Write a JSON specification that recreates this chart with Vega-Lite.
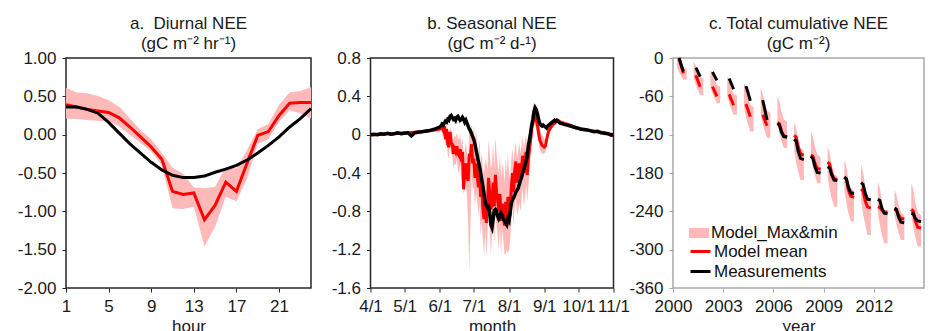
{
"$schema": "https://vega.github.io/schema/vega-lite/v6.json",
"padding": {"left": 16, "top": 14, "right": 5, "bottom": 5},
"background": "white",
"config": {
  "font": "Liberation Sans",
  "view": {"stroke": "#262626", "strokeWidth": 1.5},
  "axis": {"grid": false, "domain": false, "tickColor": "#262626", "tickSize": 4, "labelFontSize": 17, "labelColor": "#1a1a1a", "labelFont": "Liberation Sans", "labelPadding": 6, "titleFont": "Liberation Sans", "titleFontSize": 17, "titleFontWeight": "normal", "titleColor": "#1a1a1a", "titlePadding": 4, "labelFlush": false, "labelOverlap": false},
  "title": {"fontSize": 17, "fontWeight": "normal", "font": "Liberation Sans", "color": "#1a1a1a", "lineHeight": 20, "offset": -4, "anchor": "middle"},
  "legend": {"labelFont": "Liberation Sans", "labelFontSize": 17, "labelColor": "#111111", "padding": 0}
},
"datasets": {
  "diurnal": [
    {"hour": 1, "obs": 0.36, "mean": 0.39, "min": 0.21, "max": 0.61},
    {"hour": 2, "obs": 0.36, "mean": 0.36, "min": 0.205, "max": 0.55},
    {"hour": 3, "obs": 0.33, "mean": 0.33, "min": 0.19, "max": 0.54},
    {"hour": 4, "obs": 0.28, "mean": 0.31, "min": 0.18, "max": 0.505},
    {"hour": 5, "obs": 0.16, "mean": 0.29, "min": 0.17, "max": 0.45},
    {"hour": 6, "obs": 0.02, "mean": 0.22, "min": 0.11, "max": 0.365},
    {"hour": 7, "obs": -0.12, "mean": 0.10, "min": 0.0, "max": 0.21},
    {"hour": 8, "obs": -0.24, "mean": -0.03, "min": -0.11, "max": 0.06},
    {"hour": 9, "obs": -0.36, "mean": -0.16, "min": -0.22, "max": -0.06},
    {"hour": 10, "obs": -0.46, "mean": -0.32, "min": -0.40, "max": -0.24},
    {"hour": 11, "obs": -0.53, "mean": -0.74, "min": -0.96, "max": -0.43},
    {"hour": 12, "obs": -0.56, "mean": -0.78, "min": -0.97, "max": -0.51},
    {"hour": 13, "obs": -0.56, "mean": -0.76, "min": -0.94, "max": -0.69},
    {"hour": 14, "obs": -0.54, "mean": -1.11, "min": -1.46, "max": -0.70},
    {"hour": 15, "obs": -0.49, "mean": -0.92, "min": -1.20, "max": -0.68},
    {"hour": 16, "obs": -0.45, "mean": -0.62, "min": -0.81, "max": -0.42},
    {"hour": 17, "obs": -0.40, "mean": -0.74, "min": -0.87, "max": -0.44},
    {"hour": 18, "obs": -0.33, "mean": -0.37, "min": -0.57, "max": -0.20},
    {"hour": 19, "obs": -0.24, "mean": -0.01, "min": -0.12, "max": 0.07},
    {"hour": 20, "obs": -0.14, "mean": 0.04, "min": -0.06, "max": 0.14},
    {"hour": 21, "obs": -0.03, "mean": 0.25, "min": 0.17, "max": 0.39},
    {"hour": 22, "obs": 0.10, "mean": 0.41, "min": 0.32, "max": 0.55},
    {"hour": 23, "obs": 0.21, "mean": 0.42, "min": 0.28, "max": 0.57},
    {"hour": 24, "obs": 0.34, "mean": 0.42, "min": 0.21, "max": 0.62}
  ],
  "seasonal": [
    {"d": "2001-04-01", "obs": 0, "mean": 0, "min": -0.01, "max": 0.01},
    {"d": "2001-04-04", "obs": 0.005, "mean": 0, "min": -0.01, "max": 0.01},
    {"d": "2001-04-07", "obs": 0, "mean": 0.005, "min": -0.005, "max": 0.015},
    {"d": "2001-04-10", "obs": 0.01, "mean": 0.005, "min": -0.005, "max": 0.015},
    {"d": "2001-04-13", "obs": 0.005, "mean": 0.01, "min": 0, "max": 0.02},
    {"d": "2001-04-16", "obs": 0.015, "mean": 0.01, "min": 0, "max": 0.02},
    {"d": "2001-04-19", "obs": 0.005, "mean": 0.01, "min": 0, "max": 0.02},
    {"d": "2001-04-22", "obs": 0.01, "mean": 0.012, "min": 0, "max": 0.025},
    {"d": "2001-04-25", "obs": 0.02, "mean": 0.015, "min": 0.005, "max": 0.025},
    {"d": "2001-04-28", "obs": 0.01, "mean": 0.015, "min": 0.005, "max": 0.03},
    {"d": "2001-05-01", "obs": 0.015, "mean": 0.02, "min": 0.005, "max": 0.03},
    {"d": "2001-05-04", "obs": 0.02, "mean": 0.02, "min": 0.01, "max": 0.03},
    {"d": "2001-05-07", "obs": -0.012, "mean": 0.022, "min": 0.01, "max": 0.035},
    {"d": "2001-05-10", "obs": 0.02, "mean": 0.025, "min": 0.01, "max": 0.035},
    {"d": "2001-05-13", "obs": 0.025, "mean": 0.028, "min": 0.015, "max": 0.04},
    {"d": "2001-05-16", "obs": 0.03, "mean": 0.03, "min": 0.015, "max": 0.045},
    {"d": "2001-05-19", "obs": 0.035, "mean": 0.035, "min": 0.02, "max": 0.05},
    {"d": "2001-05-22", "obs": 0.04, "mean": 0.04, "min": 0.02, "max": 0.055},
    {"d": "2001-05-25", "obs": 0.05, "mean": 0.045, "min": 0.025, "max": 0.06},
    {"d": "2001-05-28", "obs": 0.06, "mean": 0.05, "min": 0.03, "max": 0.065},
    {"d": "2001-06-01", "obs": 0.08, "mean": 0.06, "min": 0.03, "max": 0.08},
    {"d": "2001-06-02", "obs": 0.09, "mean": 0.07, "min": 0.04, "max": 0.09},
    {"d": "2001-06-03", "obs": 0.11, "mean": 0.08, "min": 0.02, "max": 0.10},
    {"d": "2001-06-04", "obs": 0.10, "mean": 0.05, "min": -0.02, "max": 0.09},
    {"d": "2001-06-05", "obs": 0.12, "mean": 0.09, "min": 0.0, "max": 0.11},
    {"d": "2001-06-06", "obs": 0.14, "mean": -0.05, "min": -0.12, "max": 0.08},
    {"d": "2001-06-07", "obs": 0.13, "mean": 0.06, "min": -0.05, "max": 0.10},
    {"d": "2001-06-08", "obs": 0.16, "mean": -0.10, "min": -0.20, "max": 0.05},
    {"d": "2001-06-09", "obs": 0.15, "mean": -0.13, "min": -0.25, "max": 0.02},
    {"d": "2001-06-10", "obs": 0.19, "mean": 0.03, "min": -0.10, "max": 0.08},
    {"d": "2001-06-11", "obs": 0.20, "mean": -0.08, "min": -0.20, "max": 0.04},
    {"d": "2001-06-12", "obs": 0.18, "mean": -0.10, "min": -0.22, "max": 0.02},
    {"d": "2001-06-13", "obs": 0.16, "mean": -0.20, "min": -0.35, "max": -0.05},
    {"d": "2001-06-14", "obs": 0.17, "mean": -0.15, "min": -0.30, "max": 0.0},
    {"d": "2001-06-15", "obs": 0.15, "mean": -0.18, "min": -0.32, "max": -0.03},
    {"d": "2001-06-16", "obs": 0.18, "mean": -0.12, "min": -0.25, "max": 0.02},
    {"d": "2001-06-17", "obs": 0.19, "mean": -0.20, "min": -0.38, "max": -0.04},
    {"d": "2001-06-18", "obs": 0.17, "mean": -0.22, "min": -0.40, "max": -0.05},
    {"d": "2001-06-19", "obs": 0.15, "mean": -0.15, "min": -0.30, "max": 0.0},
    {"d": "2001-06-20", "obs": 0.16, "mean": -0.28, "min": -0.50, "max": -0.10},
    {"d": "2001-06-21", "obs": 0.18, "mean": -0.18, "min": -0.40, "max": -0.02},
    {"d": "2001-06-22", "obs": 0.16, "mean": -0.57, "min": -0.62, "max": -0.30},
    {"d": "2001-06-23", "obs": 0.13, "mean": -0.38, "min": -0.58, "max": -0.15},
    {"d": "2001-06-24", "obs": 0.15, "mean": -0.30, "min": -0.50, "max": -0.08},
    {"d": "2001-06-25", "obs": 0.12, "mean": -0.45, "min": -0.66, "max": -0.20},
    {"d": "2001-06-26", "obs": 0.09, "mean": -0.48, "min": -0.90, "max": -0.25},
    {"d": "2001-06-27", "obs": 0.06, "mean": -0.20, "min": -1.43, "max": 0.05},
    {"d": "2001-06-28", "obs": 0.04, "mean": -0.23, "min": -0.95, "max": 0.0},
    {"d": "2001-06-29", "obs": 0.01, "mean": -0.10, "min": -0.40, "max": 0.12},
    {"d": "2001-06-30", "obs": -0.02, "mean": -0.30, "min": -0.55, "max": -0.05},
    {"d": "2001-07-01", "obs": -0.05, "mean": -0.25, "min": -0.55, "max": 0.10},
    {"d": "2001-07-02", "obs": -0.10, "mean": -0.45, "min": -0.75, "max": -0.10},
    {"d": "2001-07-03", "obs": -0.16, "mean": -0.30, "min": -0.60, "max": 0.05},
    {"d": "2001-07-04", "obs": -0.22, "mean": -0.42, "min": -0.70, "max": -0.15},
    {"d": "2001-07-05", "obs": -0.28, "mean": -0.55, "min": -0.85, "max": -0.20},
    {"d": "2001-07-06", "obs": -0.33, "mean": -0.38, "min": -0.70, "max": -0.05},
    {"d": "2001-07-07", "obs": -0.40, "mean": -0.65, "min": -1.05, "max": -0.30},
    {"d": "2001-07-08", "obs": -0.47, "mean": -0.55, "min": -0.90, "max": -0.20},
    {"d": "2001-07-09", "obs": -0.54, "mean": -0.78, "min": -1.10, "max": -0.35},
    {"d": "2001-07-10", "obs": -0.62, "mean": -0.88, "min": -1.27, "max": -0.40},
    {"d": "2001-07-11", "obs": -0.70, "mean": -0.70, "min": -1.00, "max": -0.25},
    {"d": "2001-07-12", "obs": -0.74, "mean": -0.92, "min": -1.27, "max": -0.30},
    {"d": "2001-07-13", "obs": -0.76, "mean": -0.75, "min": -1.05, "max": -0.35},
    {"d": "2001-07-14", "obs": -0.75, "mean": -0.45, "min": -0.80, "max": -0.05},
    {"d": "2001-07-15", "obs": -0.82, "mean": -0.62, "min": -0.95, "max": -0.20},
    {"d": "2001-07-16", "obs": -0.94, "mean": -0.78, "min": -1.25, "max": -0.35},
    {"d": "2001-07-17", "obs": -0.97, "mean": -0.72, "min": -1.05, "max": -0.30},
    {"d": "2001-07-18", "obs": -0.88, "mean": -0.50, "min": -0.85, "max": -0.10},
    {"d": "2001-07-19", "obs": -0.79, "mean": -0.75, "min": -1.15, "max": -0.35},
    {"d": "2001-07-20", "obs": -0.78, "mean": -0.42, "min": -0.80, "max": -0.02},
    {"d": "2001-07-21", "obs": -0.80, "mean": -0.60, "min": -0.95, "max": -0.20},
    {"d": "2001-07-22", "obs": -0.85, "mean": -0.68, "min": -1.05, "max": -0.30},
    {"d": "2001-07-23", "obs": -0.88, "mean": -0.80, "min": -1.20, "max": -0.40},
    {"d": "2001-07-24", "obs": -0.86, "mean": -0.62, "min": -0.95, "max": -0.20},
    {"d": "2001-07-25", "obs": -0.82, "mean": -0.90, "min": -1.25, "max": -0.45},
    {"d": "2001-07-26", "obs": -0.84, "mean": -0.72, "min": -1.00, "max": -0.30},
    {"d": "2001-07-27", "obs": -0.88, "mean": -0.82, "min": -1.10, "max": -0.35},
    {"d": "2001-07-28", "obs": -0.90, "mean": -0.95, "min": -1.25, "max": -0.50},
    {"d": "2001-07-29", "obs": -0.92, "mean": -0.70, "min": -1.24, "max": -0.25},
    {"d": "2001-07-30", "obs": -0.94, "mean": -0.88, "min": -1.20, "max": -0.40},
    {"d": "2001-07-31", "obs": -0.88, "mean": -0.65, "min": -1.24, "max": -0.20},
    {"d": "2001-08-01", "obs": -0.90, "mean": -0.70, "min": -1.20, "max": -0.40},
    {"d": "2001-08-02", "obs": -0.80, "mean": -0.85, "min": -1.10, "max": -0.50},
    {"d": "2001-08-03", "obs": -0.72, "mean": -0.55, "min": -0.90, "max": -0.25},
    {"d": "2001-08-04", "obs": -0.68, "mean": -0.40, "min": -0.75, "max": -0.15},
    {"d": "2001-08-05", "obs": -0.66, "mean": -0.60, "min": -0.95, "max": -0.30},
    {"d": "2001-08-06", "obs": -0.63, "mean": -0.38, "min": -0.75, "max": -0.15},
    {"d": "2001-08-07", "obs": -0.60, "mean": -0.28, "min": -0.65, "max": -0.08},
    {"d": "2001-08-08", "obs": -0.58, "mean": -0.50, "min": -0.85, "max": -0.25},
    {"d": "2001-08-09", "obs": -0.56, "mean": -0.42, "min": -0.80, "max": -0.18},
    {"d": "2001-08-10", "obs": -0.52, "mean": -0.30, "min": -0.70, "max": -0.08},
    {"d": "2001-08-11", "obs": -0.48, "mean": -0.45, "min": -0.80, "max": -0.20},
    {"d": "2001-08-12", "obs": -0.45, "mean": -0.35, "min": -0.70, "max": -0.12},
    {"d": "2001-08-13", "obs": -0.40, "mean": -0.22, "min": -0.55, "max": -0.02},
    {"d": "2001-08-14", "obs": -0.36, "mean": -0.40, "min": -0.75, "max": -0.15},
    {"d": "2001-08-15", "obs": -0.32, "mean": -0.30, "min": -0.65, "max": -0.08},
    {"d": "2001-08-16", "obs": -0.28, "mean": -0.18, "min": -0.50, "max": 0.0},
    {"d": "2001-08-17", "obs": -0.22, "mean": -0.42, "min": -0.70, "max": -0.15},
    {"d": "2001-08-18", "obs": -0.12, "mean": -0.25, "min": -0.55, "max": -0.05},
    {"d": "2001-08-19", "obs": -0.05, "mean": -0.15, "min": -0.40, "max": 0.05},
    {"d": "2001-08-20", "obs": 0.02, "mean": -0.05, "min": -0.25, "max": 0.10},
    {"d": "2001-08-21", "obs": 0.10, "mean": 0.08, "min": -0.10, "max": 0.20},
    {"d": "2001-08-22", "obs": 0.16, "mean": 0.12, "min": -0.02, "max": 0.30},
    {"d": "2001-08-23", "obs": 0.24, "mean": 0.20, "min": 0.08, "max": 0.33},
    {"d": "2001-08-24", "obs": 0.28, "mean": 0.22, "min": 0.12, "max": 0.32},
    {"d": "2001-08-25", "obs": 0.26, "mean": 0.15, "min": 0.05, "max": 0.25},
    {"d": "2001-08-26", "obs": 0.22, "mean": 0.10, "min": 0.0, "max": 0.18},
    {"d": "2001-08-27", "obs": 0.16, "mean": 0.02, "min": -0.08, "max": 0.12},
    {"d": "2001-08-28", "obs": 0.12, "mean": -0.05, "min": -0.15, "max": 0.06},
    {"d": "2001-08-29", "obs": 0.10, "mean": -0.08, "min": -0.18, "max": 0.03},
    {"d": "2001-08-30", "obs": 0.09, "mean": -0.11, "min": -0.20, "max": 0.0},
    {"d": "2001-08-31", "obs": 0.10, "mean": -0.12, "min": -0.20, "max": -0.02},
    {"d": "2001-09-01", "obs": 0.09, "mean": -0.13, "min": -0.20, "max": -0.05},
    {"d": "2001-09-02", "obs": 0.08, "mean": -0.12, "min": -0.18, "max": -0.04},
    {"d": "2001-09-03", "obs": 0.07, "mean": -0.06, "min": -0.12, "max": 0.01},
    {"d": "2001-09-04", "obs": 0.09, "mean": 0.0, "min": -0.06, "max": 0.05},
    {"d": "2001-09-05", "obs": 0.10, "mean": 0.04, "min": -0.02, "max": 0.09},
    {"d": "2001-09-06", "obs": 0.11, "mean": 0.06, "min": 0.02, "max": 0.10},
    {"d": "2001-09-07", "obs": 0.12, "mean": 0.08, "min": 0.04, "max": 0.12},
    {"d": "2001-09-08", "obs": 0.13, "mean": 0.10, "min": 0.07, "max": 0.13},
    {"d": "2001-09-09", "obs": 0.14, "mean": 0.11, "min": 0.08, "max": 0.14},
    {"d": "2001-09-10", "obs": 0.15, "mean": 0.12, "min": 0.09, "max": 0.15},
    {"d": "2001-09-11", "obs": 0.14, "mean": 0.13, "min": 0.10, "max": 0.16},
    {"d": "2001-09-12", "obs": 0.15, "mean": 0.14, "min": 0.11, "max": 0.17},
    {"d": "2001-09-13", "obs": 0.14, "mean": 0.15, "min": 0.12, "max": 0.17},
    {"d": "2001-09-14", "obs": 0.13, "mean": 0.14, "min": 0.11, "max": 0.16},
    {"d": "2001-09-15", "obs": 0.12, "mean": 0.13, "min": 0.11, "max": 0.15},
    {"d": "2001-09-18", "obs": 0.11, "mean": 0.12, "min": 0.10, "max": 0.14},
    {"d": "2001-09-21", "obs": 0.10, "mean": 0.11, "min": 0.09, "max": 0.13},
    {"d": "2001-09-24", "obs": 0.09, "mean": 0.10, "min": 0.08, "max": 0.11},
    {"d": "2001-09-27", "obs": 0.08, "mean": 0.08, "min": 0.07, "max": 0.10},
    {"d": "2001-09-30", "obs": 0.07, "mean": 0.07, "min": 0.06, "max": 0.08},
    {"d": "2001-10-03", "obs": 0.06, "mean": 0.06, "min": 0.05, "max": 0.07},
    {"d": "2001-10-06", "obs": 0.055, "mean": 0.05, "min": 0.04, "max": 0.06},
    {"d": "2001-10-09", "obs": 0.05, "mean": 0.045, "min": 0.035, "max": 0.055},
    {"d": "2001-10-12", "obs": 0.04, "mean": 0.04, "min": 0.03, "max": 0.05},
    {"d": "2001-10-15", "obs": 0.03, "mean": 0.035, "min": 0.025, "max": 0.045},
    {"d": "2001-10-18", "obs": 0.035, "mean": 0.03, "min": 0.02, "max": 0.04},
    {"d": "2001-10-21", "obs": 0.02, "mean": 0.025, "min": 0.015, "max": 0.035},
    {"d": "2001-10-24", "obs": 0.015, "mean": 0.02, "min": 0.01, "max": 0.03},
    {"d": "2001-10-27", "obs": 0.01, "mean": 0.01, "min": 0.0, "max": 0.02},
    {"d": "2001-10-30", "obs": -0.005, "mean": 0.005, "min": -0.005, "max": 0.015},
    {"d": "2001-11-01", "obs": 0.0, "mean": 0.0, "min": -0.01, "max": 0.01}
  ],
  "cumul": [
    {"t": 2000.24, "season": 2000, "obs": null, "mean": null, "min": -15, "max": 0},
    {"t": 2000.36, "season": 2000, "obs": 0, "mean": 0, "min": -22, "max": -3},
    {"t": 2000.48, "season": 2000, "obs": -10, "mean": -11, "min": -28, "max": -9},
    {"t": 2000.62, "season": 2000, "obs": -21, "mean": -24, "min": -34, "max": -15},
    {"t": 2000.82, "season": 2000, "obs": null, "mean": null, "min": -34, "max": -17},
    {"t": 2001.24, "season": 2001, "obs": null, "mean": null, "min": -32, "max": -6},
    {"t": 2001.36, "season": 2001, "obs": -15, "mean": -27, "min": -42, "max": -11},
    {"t": 2001.48, "season": 2001, "obs": -21, "mean": -35, "min": -50, "max": -22},
    {"t": 2001.62, "season": 2001, "obs": -29, "mean": -45, "min": -58, "max": -29},
    {"t": 2001.82, "season": 2001, "obs": null, "mean": null, "min": -58, "max": -32},
    {"t": 2002.24, "season": 2002, "obs": null, "mean": null, "min": -45, "max": -19},
    {"t": 2002.36, "season": 2002, "obs": -22, "mean": -45, "min": -55, "max": -24},
    {"t": 2002.48, "season": 2002, "obs": -28, "mean": -52, "min": -63, "max": -35},
    {"t": 2002.62, "season": 2002, "obs": -35, "mean": -60, "min": -71, "max": -42},
    {"t": 2002.82, "season": 2002, "obs": null, "mean": null, "min": -71, "max": -45},
    {"t": 2003.24, "season": 2003, "obs": null, "mean": null, "min": -59, "max": -29},
    {"t": 2003.36, "season": 2003, "obs": -32, "mean": -57, "min": -71, "max": -35},
    {"t": 2003.48, "season": 2003, "obs": -40, "mean": -65, "min": -80, "max": -47},
    {"t": 2003.62, "season": 2003, "obs": -49, "mean": -74, "min": -89, "max": -56},
    {"t": 2003.82, "season": 2003, "obs": null, "mean": null, "min": -89, "max": -59},
    {"t": 2004.24, "season": 2004, "obs": null, "mean": null, "min": -77, "max": -39},
    {"t": 2004.36, "season": 2004, "obs": -44, "mean": -72, "min": -92, "max": -47},
    {"t": 2004.48, "season": 2004, "obs": -54, "mean": -81, "min": -104, "max": -62},
    {"t": 2004.62, "season": 2004, "obs": -67, "mean": -92, "min": -115, "max": -73},
    {"t": 2004.82, "season": 2004, "obs": null, "mean": null, "min": -115, "max": -77},
    {"t": 2005.24, "season": 2005, "obs": null, "mean": null, "min": -86, "max": -47},
    {"t": 2005.36, "season": 2005, "obs": -66, "mean": -89, "min": -102, "max": -55},
    {"t": 2005.48, "season": 2005, "obs": -80, "mean": -97, "min": -113, "max": -70},
    {"t": 2005.62, "season": 2005, "obs": -97, "mean": -106, "min": -125, "max": -82},
    {"t": 2005.82, "season": 2005, "obs": null, "mean": null, "min": -125, "max": -86},
    {"t": 2006.24, "season": 2006, "obs": -103, "mean": -101, "min": -100, "max": -60},
    {"t": 2006.36, "season": 2006, "obs": -105, "mean": -103, "min": -117, "max": -68},
    {"t": 2006.48, "season": 2006, "obs": -116, "mean": -114, "min": -129, "max": -84},
    {"t": 2006.62, "season": 2006, "obs": -123, "mean": -122, "min": -141, "max": -96},
    {"t": 2006.82, "season": 2006, "obs": -124, "mean": -123, "min": -141, "max": -100},
    {"t": 2007.24, "season": 2007, "obs": -127, "mean": -121, "min": -145, "max": -100},
    {"t": 2007.36, "season": 2007, "obs": -130, "mean": -124, "min": -164, "max": -109},
    {"t": 2007.48, "season": 2007, "obs": -146, "mean": -139, "min": -177, "max": -127},
    {"t": 2007.62, "season": 2007, "obs": -157, "mean": -150, "min": -191, "max": -141},
    {"t": 2007.82, "season": 2007, "obs": -159, "mean": -152, "min": -191, "max": -145},
    {"t": 2008.24, "season": 2008, "obs": -154, "mean": -152, "min": -155, "max": -115},
    {"t": 2008.36, "season": 2008, "obs": -157, "mean": -154, "min": -172, "max": -123},
    {"t": 2008.48, "season": 2008, "obs": -170, "mean": -165, "min": -184, "max": -139},
    {"t": 2008.62, "season": 2008, "obs": -179, "mean": -173, "min": -196, "max": -151},
    {"t": 2008.82, "season": 2008, "obs": -180, "mean": -174, "min": -196, "max": -155},
    {"t": 2009.24, "season": 2009, "obs": -170, "mean": -163, "min": -186, "max": -139},
    {"t": 2009.36, "season": 2009, "obs": -172, "mean": -166, "min": -205, "max": -148},
    {"t": 2009.48, "season": 2009, "obs": -183, "mean": -180, "min": -219, "max": -167},
    {"t": 2009.62, "season": 2009, "obs": -191, "mean": -189, "min": -233, "max": -181},
    {"t": 2009.82, "season": 2009, "obs": -192, "mean": -190, "min": -233, "max": -186},
    {"t": 2010.24, "season": 2010, "obs": -186, "mean": -187, "min": -208, "max": -160},
    {"t": 2010.36, "season": 2010, "obs": -189, "mean": -190, "min": -227, "max": -170},
    {"t": 2010.48, "season": 2010, "obs": -202, "mean": -206, "min": -242, "max": -189},
    {"t": 2010.62, "season": 2010, "obs": -211, "mean": -216, "min": -256, "max": -203},
    {"t": 2010.82, "season": 2010, "obs": -212, "mean": -218, "min": -256, "max": -208},
    {"t": 2011.24, "season": 2011, "obs": -195, "mean": -205, "min": -222, "max": -167},
    {"t": 2011.36, "season": 2011, "obs": -198, "mean": -208, "min": -244, "max": -178},
    {"t": 2011.48, "season": 2011, "obs": -211, "mean": -223, "min": -260, "max": -200},
    {"t": 2011.62, "season": 2011, "obs": -221, "mean": -233, "min": -277, "max": -216},
    {"t": 2011.82, "season": 2011, "obs": -222, "mean": -235, "min": -277, "max": -222},
    {"t": 2012.24, "season": 2012, "obs": -221, "mean": -233, "min": -242, "max": -194},
    {"t": 2012.36, "season": 2012, "obs": -223, "mean": -234, "min": -261, "max": -204},
    {"t": 2012.48, "season": 2012, "obs": -235, "mean": -238, "min": -276, "max": -223},
    {"t": 2012.62, "season": 2012, "obs": -243, "mean": -241, "min": -290, "max": -237},
    {"t": 2012.82, "season": 2012, "obs": -244, "mean": -241, "min": -290, "max": -242},
    {"t": 2013.24, "season": 2013, "obs": -235, "mean": -237, "min": -246, "max": -207},
    {"t": 2013.36, "season": 2013, "obs": -237, "mean": -239, "min": -262, "max": -215},
    {"t": 2013.48, "season": 2013, "obs": -249, "mean": -246, "min": -273, "max": -230},
    {"t": 2013.62, "season": 2013, "obs": -257, "mean": -251, "min": -285, "max": -242},
    {"t": 2013.82, "season": 2013, "obs": -258, "mean": -252, "min": -285, "max": -246},
    {"t": 2014.24, "season": 2014, "obs": -243, "mean": -237, "min": -246, "max": -196},
    {"t": 2014.36, "season": 2014, "obs": -244, "mean": -240, "min": -265, "max": -206},
    {"t": 2014.48, "season": 2014, "obs": -251, "mean": -255, "min": -280, "max": -226},
    {"t": 2014.62, "season": 2014, "obs": -255, "mean": -265, "min": -295, "max": -241},
    {"t": 2014.82, "season": 2014, "obs": -256, "mean": -266, "min": -295, "max": -246}
  ]
},
"resolve": {"scale": {"fill": "independent", "stroke": "independent"}, "legend": {"fill": "independent", "stroke": "independent"}},
"bounds": "flush",
"spacing": 59.5,
"hconcat": [
  {
    "width": 245, "height": 230,
    "title": {"text": ["a.\u00a0 Diurnal NEE", "(gC m⁻² hr⁻¹)"]},
    "data": {"name": "diurnal"},
    "encoding": {
      "x": {"field": "hour", "type": "quantitative", "scale": {"domain": [1, 24], "nice": false}, "axis": {"values": [1, 5, 9, 13, 17, 21], "tickCount": 10, "title": "hour"}}
    },
    "layer": [
      {"mark": {"type": "area", "color": "#ffb9b9"}, "encoding": {"y": {"field": "max", "type": "quantitative", "scale": {"domain": [-2, 1], "nice": false}, "axis": {"values": [-2, -1.5, -1, -0.5, 0, 0.5, 1], "tickCount": 10, "labelOverlap": false, "labelExpr": "replace(format(datum.value, '.2f'), '−', '-')", "title": null}}, "y2": {"field": "min"}}},
      {"mark": {"type": "rule", "color": "#333333", "strokeDash": [1.5, 2], "strokeWidth": 1}, "encoding": {"y": {"datum": 0}}},
      {"mark": {"type": "line", "color": "#ff0000", "strokeWidth": 3}, "encoding": {"y": {"field": "mean", "type": "quantitative"}}},
      {"mark": {"type": "line", "color": "#000000", "strokeWidth": 3}, "encoding": {"y": {"field": "obs", "type": "quantitative"}}}
    ]
  },
  {
    "width": 243, "height": 230,
    "title": {"text": ["b. Seasonal NEE", "(gC m⁻² d-¹)"]},
    "data": {"name": "seasonal"},
    "encoding": {
      "x": {"field": "d", "type": "temporal", "scale": {"type": "utc", "domain": [{"year": 2001, "month": 4, "date": 1, "utc": true}, {"year": 2001, "month": 11, "date": 1, "utc": true}], "nice": false},
            "axis": {"values": [{"year": 2001, "month": 4, "date": 1, "utc": true}, {"year": 2001, "month": 5, "date": 1, "utc": true}, {"year": 2001, "month": 6, "date": 1, "utc": true}, {"year": 2001, "month": 7, "date": 1, "utc": true}, {"year": 2001, "month": 8, "date": 1, "utc": true}, {"year": 2001, "month": 9, "date": 1, "utc": true}, {"year": 2001, "month": 10, "date": 1, "utc": true}, {"year": 2001, "month": 11, "date": 1, "utc": true}], "labelExpr": "utcFormat(datum.value, '%-m/%-d')", "title": "month"}}
    },
    "layer": [
      {"mark": {"type": "area", "color": "#ffb9b9"}, "encoding": {"y": {"field": "max", "type": "quantitative", "scale": {"domain": [-1.6, 0.8], "nice": false}, "axis": {"values": [-1.6, -1.2, -0.8, -0.4, 0, 0.4, 0.8], "tickCount": 10, "labelOverlap": false, "labelExpr": "replace(format(datum.value, ''), '−', '-')", "title": null}}, "y2": {"field": "min"}}},
      {"mark": {"type": "rule", "color": "#333333", "strokeDash": [1.5, 2], "strokeWidth": 1}, "encoding": {"y": {"datum": 0}}},
      {"mark": {"type": "line", "color": "#ff0000", "strokeWidth": 3}, "encoding": {"y": {"field": "mean", "type": "quantitative"}}},
      {"mark": {"type": "line", "color": "#000000", "strokeWidth": 3.5}, "encoding": {"y": {"field": "obs", "type": "quantitative"}}}
    ]
  },
  {
    "width": 251, "height": 230,
    "view": {"stroke": "#a8a8a8", "strokeWidth": 1.5},
    "title": {"text": ["c. Total cumulative NEE", "(gC m⁻²)"]},
    "data": {"name": "cumul"},
    "encoding": {
      "x": {"field": "t", "type": "quantitative", "scale": {"domain": [2000, 2015], "nice": false}, "axis": {"values": [2000, 2003, 2006, 2009, 2012], "tickCount": 10, "format": "d", "title": "year", "tickColor": "#a8a8a8"}},
      "detail": {"field": "season", "type": "nominal"}
    },
    "layer": [
      {"mark": {"type": "area"}, "encoding": {
        "y": {"field": "max", "type": "quantitative", "scale": {"domain": [-360, 0], "nice": false}, "axis": {"values": [-360, -300, -240, -180, -120, -60, 0], "tickCount": 10, "labelOverlap": false, "labelExpr": "replace(format(datum.value, 'd'), '−', '-')", "title": null, "tickColor": "#a8a8a8"}},
        "y2": {"field": "min"},
        "fill": {"datum": "Model_Max&min", "scale": {"domain": ["Model_Max&min"], "range": ["#ffb9b9"]}, "legend": {"orient": "none", "legendX": 16, "legendY": 165, "title": null, "symbolType": "M-1,-0.5H1V0.5H-1Z", "symbolSize": 400, "symbolStrokeWidth": 0, "labelOffset": 2}}
      }},
      {"mark": {"type": "line", "strokeWidth": 3}, "encoding": {
        "y": {"field": "mean", "type": "quantitative"},
        "stroke": {"datum": "Model mean", "scale": {"domain": ["Model mean", "Measurements"], "range": ["#ff0000", "#000000"]}, "legend": {"orient": "none", "legendX": 16, "legendY": 182, "title": null, "symbolType": "stroke", "symbolSize": 400, "symbolStrokeWidth": 3, "labelOffset": 2, "rowPadding": -2}}
      }},
      {"mark": {"type": "line", "strokeWidth": 3}, "encoding": {
        "y": {"field": "obs", "type": "quantitative"},
        "stroke": {"datum": "Measurements"}
      }}
    ]
  }
]
}
